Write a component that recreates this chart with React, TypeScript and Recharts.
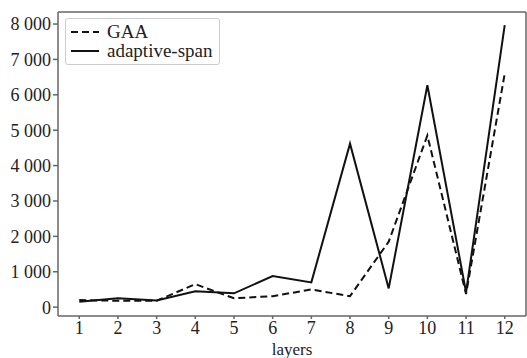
import { LineChart, Line, XAxis, YAxis, ReferenceLine } from 'recharts';

const layers = [1, 2, 3, 4, 5, 6, 7, 8, 9, 10, 11, 12];
const gaa = [200, 180, 180, 650, 250, 310, 500, 310, 1850, 4850, 370, 6600];
const adaptiveSpan = [150, 250, 190, 450, 390, 880, 700, 4620, 530, 6270, 420, 7970];
const yTicks = [0, 1000, 2000, 3000, 4000, 5000, 6000, 7000, 8000];

const series = [
  { key: 'gaa', name: 'GAA', dash: '7 4' },
  { key: 'span', name: 'adaptive-span', dash: undefined as string | undefined }
];

const data = layers.map((l, i) => ({
  layer: l,
  gaa: gaa[i],
  span: adaptiveSpan[i]
}));

const font = '"Liberation Serif", "Times New Roman", serif';
const axisColor = '#666';

const fmt = (v: number) => (v >= 1000 ? `${Math.floor(v / 1000)} ${String(v % 1000).padStart(3, '0')}` : String(v));

function LegendBox() {
  return (
    <div
      style={{
        position: 'absolute',
        left: 65,
        top: 18,
        border: '1px solid #ccc',
        borderRadius: 3,
        background: '#fff',
        padding: '3px 6px 4px 5px',
        fontFamily: font,
        fontSize: 19,
        color: '#222',
        lineHeight: '19px'
      }}
    >
      {series.map((s) => (
        <div key={s.key} style={{ display: 'flex', alignItems: 'center' }}>
          <svg width={30} height={12} style={{ marginRight: 6 }}>
            <line x1={0} y1={6} x2={28} y2={6} stroke="#111" strokeWidth={2} strokeDasharray={s.dash} />
          </svg>
          <span>{s.name}</span>
        </div>
      ))}
    </div>
  );
}

export default function App() {
  return (
    <div style={{ position: 'absolute', left: 0, top: 0, width: 527, height: 358, background: '#fff' }}>
      <LineChart width={527} height={358} data={data} margin={{ top: 12, right: 1, bottom: 0, left: 0 }}>
        <XAxis
          dataKey="layer"
          type="number"
          domain={[0.45, 12.55]}
          ticks={layers}
          allowDataOverflow
          height={42}
          stroke={axisColor}
          strokeWidth={1.5}
          tickSize={3}
          tick={{ fill: '#222', fontSize: 18, fontFamily: font }}
          label={{ value: 'layers', position: 'insideBottom', offset: 3, fill: '#222', fontSize: 17, fontFamily: font }}
        />
        <YAxis
          type="number"
          domain={[-250, 8340]}
          ticks={yTicks}
          allowDataOverflow
          width={58}
          stroke={axisColor}
          strokeWidth={1.5}
          tickSize={5}
          tickFormatter={fmt}
          tick={{ fill: '#222', fontSize: 18, fontFamily: font }}
        />
        <ReferenceLine y={8340} stroke={axisColor} strokeWidth={1.5} />
        <ReferenceLine x={12.55} stroke={axisColor} strokeWidth={1.5} />
        {series.map((s) => (
          <Line
            key={s.key}
            dataKey={s.key}
            name={s.name}
            stroke="#111"
            strokeWidth={2}
            strokeDasharray={s.dash}
            dot={false}
            isAnimationActive={false}
          />
        ))}
      </LineChart>
      <LegendBox />
    </div>
  );
}
